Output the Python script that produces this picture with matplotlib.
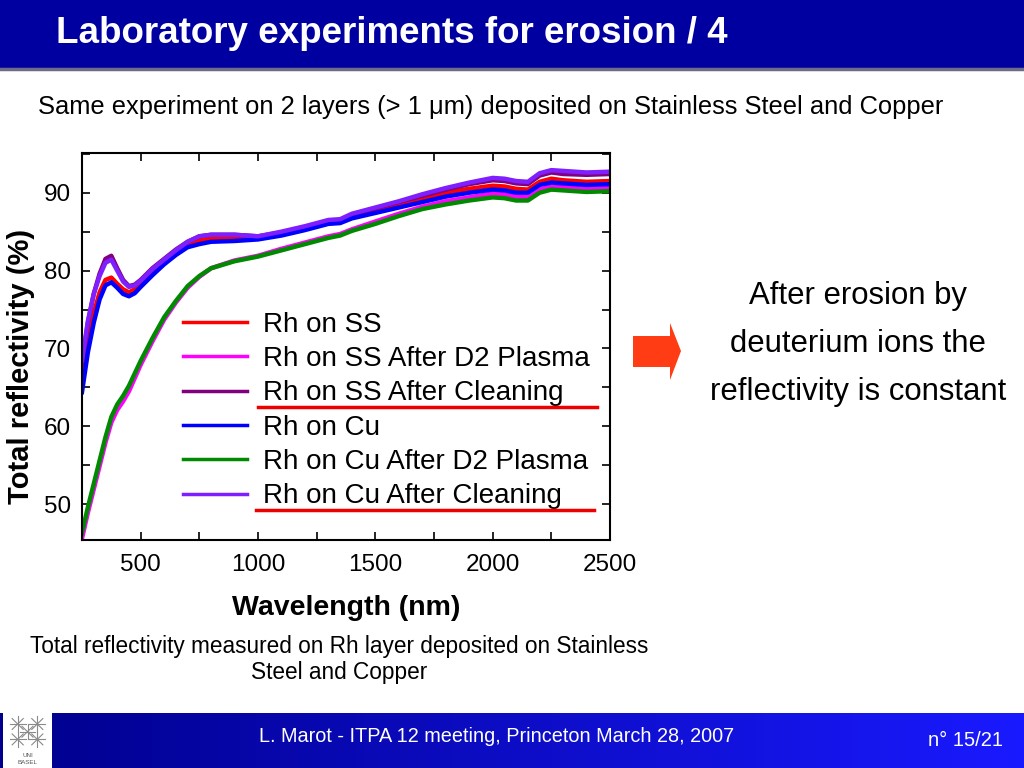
import matplotlib
matplotlib.use("Agg")
import numpy as np
import matplotlib.pyplot as plt
from matplotlib.patches import Rectangle, Polygon
from matplotlib.lines import Line2D
from matplotlib.ticker import MultipleLocator

plt.rcParams['font.family'] = ['Liberation Sans', 'DejaVu Sans']

# wavelength nodes (nm)
wavelength = [250, 275, 300, 325, 350, 375, 400, 425, 450, 475, 500, 550, 600,
              650, 700, 750, 800, 900, 1000, 1100, 1200, 1300, 1350, 1400, 1500,
              1600, 1700, 1800, 1900, 2000, 2050, 2100, 2150, 2200, 2250, 2300,
              2400, 2500]

rh_ss = [66.0, 70.8, 74.5, 77.2, 78.8, 79.1, 78.3, 77.6, 77.2, 77.6, 78.3, 79.8,
         81.1, 82.3, 83.3, 83.9, 84.1, 84.2, 84.2, 84.7, 85.4, 86.2, 86.3, 86.9,
         87.7, 88.5, 89.3, 90.0, 90.5, 90.9, 90.8, 90.5, 90.4, 91.4, 91.8, 91.6,
         91.4, 91.5]
rh_ss_d2 = [45.6, 48.9, 51.9, 54.9, 57.9, 60.5, 62.1, 63.2, 64.5, 66.2, 67.9,
            70.9, 73.7, 75.9, 77.8, 79.2, 80.3, 81.3, 81.9, 82.8, 83.6, 84.4,
            84.7, 85.3, 86.3, 87.3, 88.2, 88.9, 89.4, 89.9, 89.8, 89.5, 89.4,
            90.4, 90.8, 90.7, 90.5, 90.6]
rh_ss_clean = [68.0, 73.3, 77.0, 79.6, 81.5, 81.9, 80.3, 78.8, 78.0, 78.2, 78.8,
               80.3, 81.5, 82.7, 83.7, 84.4, 84.6, 84.6, 84.4, 84.9, 85.6, 86.4,
               86.5, 87.2, 88.0, 88.8, 89.6, 90.4, 91.1, 91.6, 91.5, 91.2, 91.1,
               92.2, 92.6, 92.4, 92.3, 92.4]
rh_cu = [64.4, 69.5, 73.3, 76.3, 78.1, 78.5, 77.8, 77.0, 76.7, 77.1, 77.9, 79.4,
         80.8, 82.0, 83.0, 83.4, 83.7, 83.8, 84.0, 84.5, 85.2, 86.0, 86.1, 86.7,
         87.4, 88.1, 88.8, 89.5, 90.0, 90.4, 90.3, 90.0, 90.0, 91.0, 91.3, 91.2,
         91.0, 91.1]
rh_cu_d2 = [46.3, 49.6, 52.6, 55.6, 58.6, 61.2, 62.8, 63.9, 65.2, 66.8, 68.4,
            71.3, 74.0, 76.1, 78.0, 79.3, 80.3, 81.2, 81.8, 82.6, 83.4, 84.2,
            84.5, 85.1, 86.0, 87.0, 87.9, 88.5, 89.0, 89.4, 89.3, 89.0, 89.0,
            90.0, 90.4, 90.3, 90.1, 90.2]
rh_cu_clean = [68.5, 73.5, 77.0, 79.3, 81.0, 81.4, 80.0, 78.6, 77.9, 78.1, 78.7,
               80.2, 81.4, 82.6, 83.7, 84.4, 84.6, 84.6, 84.4, 85.0, 85.7, 86.5,
               86.6, 87.3, 88.1, 88.9, 89.8, 90.6, 91.3, 91.9, 91.8, 91.5, 91.4,
               92.5, 92.9, 92.8, 92.6, 92.7]

labels = ["Rh on SS", "Rh on SS After D2 Plasma", "Rh on SS After Cleaning",
          "Rh on Cu", "Rh on Cu After D2 Plasma", "Rh on Cu After Cleaning"]
colors = ["#ff0000", "#ff00ff", "#800080", "#0000ff", "#008a00", "#7f1fff"]

W, H = 1024, 768


def fx(x):
    return x / W


def fy(y):
    return 1 - y / H


fig = plt.figure(figsize=(10.24, 7.68), dpi=100)
fig.patch.set_facecolor("white")

# title bar
fig.patches.append(Rectangle((0, fy(69)), 1, 69 / H, transform=fig.transFigure,
                             facecolor="#0000a0", edgecolor="none", zorder=0))
fig.add_artist(Line2D([0, 1], [fy(69), fy(69)], color="#6c6c88", lw=2.5))
fig.text(fx(56), fy(43), "Laboratory experiments for erosion / 4", color="white",
         fontsize=26.5, fontweight="bold", va="baseline", ha="left")

fig.text(fx(38), fy(107), "Same experiment on 2 layers (> 1 \u03bcm) deposited on "
         "Stainless Steel and Copper", fontsize=18.4, va="center", ha="left")

# chart
ax = fig.add_axes([fx(82), fy(540), fx(610) - fx(82), (540 - 153) / H])
series = [rh_ss, rh_ss_d2, rh_ss_clean, rh_cu, rh_cu_d2, rh_cu_clean]
for vals, lab, col in zip(series, labels, colors):
    ax.plot(wavelength, vals, color=col, lw=3.2, label=lab)
ax.set_xlim(250, 2500)
ax.set_ylim(45.4, 95.1)
ax.xaxis.set_major_locator(MultipleLocator(500))
ax.xaxis.set_minor_locator(MultipleLocator(250))
ax.yaxis.set_major_locator(MultipleLocator(10))
ax.yaxis.set_minor_locator(MultipleLocator(5))
ax.tick_params(which="both", direction="in", top=True, right=True, length=6,
               width=1.2, labelsize=17.5, pad=8)
ax.tick_params(axis="x", pad=10)
for s in ax.spines.values():
    s.set_linewidth(1.5)
ax.set_xlabel("Wavelength (nm)", fontsize=20.5, fontweight="bold", labelpad=14)
ax.set_ylabel("Total reflectivity (%)", fontsize=21, fontweight="bold")
ax.yaxis.set_label_coords(-0.089, 0.448)
leg = ax.legend(loc="upper left", bbox_to_anchor=(0.17, 0.619), frameon=False,
                fontsize=20, handlelength=2.3, handletextpad=0.6,
                labelspacing=0.3, borderaxespad=0)
for ln in leg.get_lines():
    ln.set_linewidth(2.5)

# red underlines
fig.add_artist(Line2D([fx(258), fx(597)], [fy(407), fy(407)], color="#ee0000", lw=2.5))
fig.add_artist(Line2D([fx(256), fx(594)], [fy(510), fy(510)], color="#ee0000", lw=2.5))

# block arrow
arrow_px = [(633, 336), (670, 336), (670, 323), (681, 351), (670, 380),
            (670, 367), (633, 367)]
fig.patches.append(Polygon([(fx(x), fy(y)) for x, y in arrow_px], closed=True,
                           transform=fig.transFigure, facecolor="#ff3c14",
                           edgecolor="none"))

for txt, y in [("After erosion by", 296), ("deuterium ions the", 344),
               ("reflectivity is constant", 392)]:
    fig.text(fx(858), fy(y), txt, fontsize=22.4, ha="center", va="center")

fig.text(fx(339), fy(646), "Total reflectivity measured on Rh layer deposited on Stainless",
         fontsize=16.3, ha="center", va="center")
fig.text(fx(339), fy(673), "Steel and Copper", fontsize=16.3, ha="center", va="center")

# footer bar with gradient
axf = fig.add_axes([0, 0, 1, 55 / H])
grad = np.linspace(0, 1, 256)
img = np.dstack([0.10 * grad, 0.10 * grad, 0.55 + 0.45 * grad]).repeat(2, axis=0)
axf.imshow(img, aspect="auto", extent=[0, 1, 0, 1])
axf.set_axis_off()
fig.text(fx(497), fy(737), "L. Marot - ITPA 12 meeting, Princeton March 28, 2007",
         color="white", fontsize=14.3, ha="center", va="center")
fig.text(fx(965), fy(740), "n\u00b0 15/21", color="white", fontsize=14.5,
         ha="center", va="center")

# university logo
axl = fig.add_axes([fx(3), 0, 49 / W, 55 / H])
axl.set_facecolor("white")
axl.set_xlim(0, 1)
axl.set_ylim(0, 1)
for cx, cy in [(0.3, 0.8), (0.7, 0.8), (0.3, 0.52), (0.7, 0.52), (0.5, 0.66)]:
    for ang in np.arange(0, np.pi, np.pi / 4):
        dx, dy = 0.16 * np.cos(ang), 0.14 * np.sin(ang)
        axl.plot([cx - dx, cx + dx], [cy - dy, cy + dy], color="#8a8a8a", lw=0.8)
axl.text(0.5, 0.22, "UNI", fontsize=4.5, ha="center", va="center", color="#555555")
axl.text(0.5, 0.1, "BASEL", fontsize=4.5, ha="center", va="center", color="#555555")
axl.set_xticks([])
axl.set_yticks([])
for s in axl.spines.values():
    s.set_visible(False)

fig.savefig("out.png", dpi=100)
